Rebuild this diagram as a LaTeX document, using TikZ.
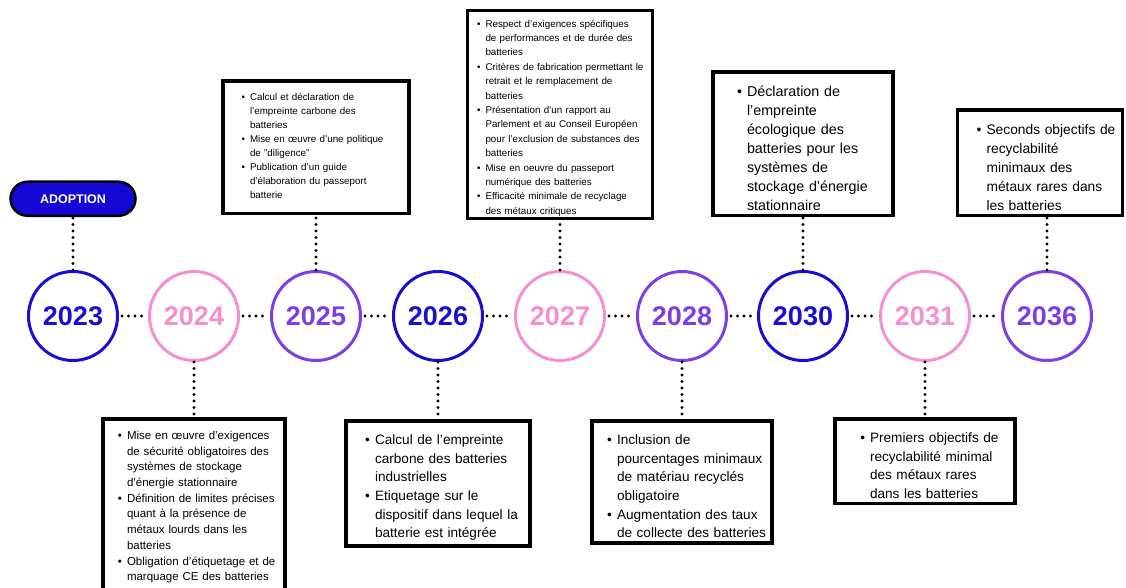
\documentclass[tikz,border=0pt]{standalone}
\usepackage{fontspec}
\setmainfont{Liberation Sans}
\usepackage{enumitem}
\usetikzlibrary{positioning}
\definecolor{yrblue}{RGB}{26, 14, 207}
\definecolor{yrpink}{RGB}{245, 143, 208}
\definecolor{yrpurple}{RGB}{123, 63, 228}
\definecolor{pillblue}{RGB}{22, 6, 216}
\setlist[itemize]{nosep, label=\textbullet, labelsep=5pt}

\begin{document}
\begin{tikzpicture}[
    x=1pt, y=-1pt,
    year/.style={circle, draw=#1, text=#1, line width=3pt, minimum size=89pt, inner sep=0pt, font=\fontsize{27}{27}\selectfont\bfseries},
    pill/.style={rectangle, rounded corners=17pt, draw=black, fill=pillblue, line width=2.5pt, minimum width=125pt, minimum height=34pt, text=white, font=\fontsize{12.5}{12.5}\selectfont\bfseries},
    note/.style={rectangle, draw=black, fill=white, line width=3.5pt, inner ysep=5pt, inner xsep=3pt, text width=#1},
    tiny/.style={font=\fontsize{9.8}{14}\selectfont},
    small/.style={font=\fontsize{11.5}{15.7}\selectfont},
    big/.style={font=\fontsize{13.6}{18.7}\selectfont},
    huge/.style={font=\fontsize{14.3}{19}\selectfont},
    dotline/.style={line width=3.2pt, dash pattern=on 0pt off 6.5pt, line cap=round, black}
    ]
    \useasboundingbox (0,0) rectangle (1126,588);

    % Years
    \foreach \yr/\cx/\col in {2023/73/yrblue, 2024/194/yrpink, 2025/316/yrpurple,
        2026/438/yrblue, 2027/560/yrpink, 2028/682/yrpurple,
        2030/803/yrblue, 2031/925/yrpink, 2036/1047/yrpurple}
      \node[year=\col] (y\yr) at (\cx,316) {\yr};

    \node[pill, above=53pt of y2023] (adopt) {ADOPTION};

    % Upper notes
    \node[note=180pt, tiny, above=55pt of y2025] (n2025) {%
      \begin{itemize}[leftmargin=24pt]
        \item Calcul et déclaration de\\ l'empreinte carbone des\\ batteries
        \item Mise en œuvre d'une politique\\ de "diligence"
        \item Publication d'un guide\\ d'élaboration du passeport\\ batterie
      \end{itemize}\par\kern10pt};

    \node[note=179pt, font=\fontsize{9.8}{14.4}\selectfont, inner ysep=2pt, above=50pt of y2027] (n2027) {%
      \begin{itemize}[leftmargin=15pt]
        \item Respect d'exigences spécifiques\\ de performances et de durée des\\ batteries
        \item Critères de fabrication permettant le\\ retrait et le remplacement de\\ batteries
        \item Présentation d'un rapport au\\ Parlement et au Conseil Européen\\ pour l'exclusion de substances des\\ batteries
        \item Mise en oeuvre du passeport\\ numérique des batteries
        \item Efficacité minimale de recyclage\\ des métaux critiques
      \end{itemize}};

    \node[note=174pt, huge, above=53pt of y2030] (n2030) {%
      \begin{itemize}[leftmargin=31pt]
        \item Déclaration de\\ l'empreinte\\ écologique des\\ batteries pour les\\ systèmes de\\ stockage d'énergie\\ stationnaire
      \end{itemize}};

    \node[note=165pt, huge, font=\fontsize{13.8}{19}\selectfont, inner xsep=0pt, above=53pt of y2036, xshift=-7pt] (n2036) {%
      \begin{itemize}[leftmargin=29pt]
        \item Seconds objectifs de\\ recyclabilité\\ minimaux des\\ métaux rares dans\\ les batteries
      \end{itemize}};

    % Lower notes
    \node[note=176pt, small, below=55pt of y2024] (n2024) {%
      \begin{itemize}[leftmargin=21pt]
        \item Mise en œuvre d'exigences\\ de sécurité obligatoires des\\ systèmes de stockage\\ d'énergie stationnaire
        \item Définition de limites précises\\ quant à la présence de\\ métaux lourds dans les\\ batteries
        \item Obligation d'étiquetage et de\\ marquage CE des batteries
      \end{itemize}\par\kern30pt};

    \node[note=178pt, big, below=57pt of y2026] (n2026) {%
      \begin{itemize}[leftmargin=26pt]
        \item Calcul de l'empreinte\\ carbone des batteries\\ industrielles
        \item Etiquetage sur le\\ dispositif dans lequel la\\ batterie est intégrée
      \end{itemize}};

    \node[note=174pt, big, below=57pt of y2028] (n2028) {%
      \begin{itemize}[leftmargin=22pt]
        \item Inclusion de\\ pourcentages minimaux\\ de matériau recyclés\\ obligatoire
        \item Augmentation des taux\\ de collecte des batteries
      \end{itemize}};

    \node[note=174pt, big, below=55pt of y2031] (n2031) {%
      \begin{itemize}[leftmargin=32pt]
        \item Premiers objectifs de\\ recyclabilité minimal\\ des métaux rares\\ dans les batteries
      \end{itemize}};

    % Dotted links
    \foreach \a/\b in {2023/2024, 2024/2025, 2025/2026, 2026/2027,
        2027/2028, 2028/2030, 2030/2031, 2031/2036}
      \draw[dotline, shorten <=3pt, shorten >=3pt] (y\a) -- (y\b);

    \draw[dotline] (y2023) -- (adopt);
    \foreach \yr in {2024, 2025, 2026, 2027, 2028, 2030, 2031}
      \draw[dotline] (y\yr) -- (n\yr);
    \draw[dotline] (y2036.north) -- (y2036.north |- n2036.south);
  \end{tikzpicture}
\end{document}
